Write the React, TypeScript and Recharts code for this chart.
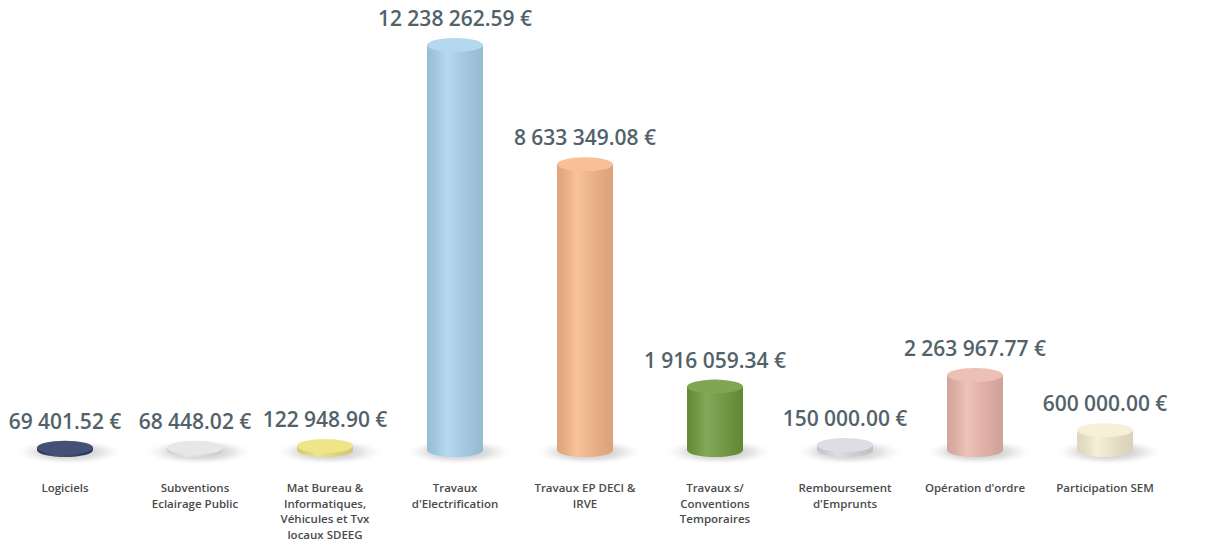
import { Bar, BarChart, Cell, LabelList, XAxis, YAxis } from "recharts";

const categories = [
  ["Logiciels"],
  ["Subventions", "Eclairage Public"],
  ["Mat Bureau &", "Informatiques,", "Véhicules et Tvx", "locaux SDEEG"],
  ["Travaux", "d'Electrification"],
  ["Travaux EP  DECI &", "IRVE"],
  ["Travaux s/", "Conventions", "Temporaires"],
  ["Remboursement", "d'Emprunts"],
  ["Opération d'ordre"],
  ["Participation SEM"],
];

const amounts = [
  69401.52, 68448.02, 122948.9, 12238262.59, 8633349.08, 1916059.34, 150000.0, 2263967.77, 600000.0,
];

const colors = [
  "#2a3a64", "#e4e4e6", "#ece27c", "#a9d3ee", "#f7b889", "#6f9a3c", "#d9d9e2", "#ecb7ae", "#f6eed2",
];

const data = categories.map((lines, i) => ({ name: lines.join(" "), lines, value: amounts[i] }));

const euro = (v: number) => {
  const [int, dec] = v.toFixed(2).split(".");
  return int.replace(/\B(?=(\d{3})+(?!\d))/g, " ") + "." + dec + " €";
};

const RY = 7;

function Cylinder(props: any) {
  const { x, y, width, height, fill, index } = props;
  const cx = x + width / 2;
  const rx = width / 2;
  const top = y;
  const bottom = y + height;
  const id = `cyl-${index}`;
  const body = `M${x},${top} L${x},${bottom} A${rx},${RY} 0 0 0 ${x + width},${bottom} L${x + width},${top} Z`;
  return (
    <g>
      <defs>
        <radialGradient id={`${id}-sh`}>
          <stop offset="0%" stopColor="#7a7a7a" stopOpacity={0.6} />
          <stop offset="60%" stopColor="#a8a8a8" stopOpacity={0.3} />
          <stop offset="100%" stopColor="#ffffff" stopOpacity={0} />
        </radialGradient>
        <linearGradient id={`${id}-shine`} x1="0" x2="1" y1="0" y2="0">
          <stop offset="0%" stopColor="#000" stopOpacity={0.1} />
          <stop offset="35%" stopColor="#fff" stopOpacity={0.15} />
          <stop offset="100%" stopColor="#000" stopOpacity={0.12} />
        </linearGradient>
      </defs>
      <ellipse cx={cx + 4} cy={bottom + 2} rx={rx + 28} ry={RY + 6} fill={`url(#${id}-sh)`} />
      <path d={body} fill={fill} />
      <path d={body} fill={`url(#${id}-shine)`} />
      <ellipse cx={cx} cy={top} rx={rx} ry={RY} fill={fill} />
      <ellipse cx={cx} cy={top} rx={rx} ry={RY} fill="#fff" fillOpacity={0.12} />
    </g>
  );
}

function CategoryTick(props: any) {
  const { x, y, payload } = props;
  const lines = categories[payload.index] ?? [payload.value];
  return (
    <text
      x={x}
      y={y}
      textAnchor="middle"
      fill="#4a4a4a"
      fontFamily="'Open Sans', sans-serif"
      fontWeight={600}
      fontSize={11.5}
    >
      {lines.map((l: string, i: number) => (
        <tspan key={i} x={x} dy={i === 0 ? 34 : 15.5}>
          {l}
        </tspan>
      ))}
    </text>
  );
}

function ValueLabel(props: any) {
  const { x, y, width, value } = props;
  return (
    <text
      x={x + width / 2}
      y={y - 19}
      textAnchor="middle"
      fill="#52626a"
      fontFamily="'Open Sans', sans-serif"
      fontWeight={600}
      fontSize={21}
    >
      {euro(value)}
    </text>
  );
}

export default function App() {
  return (
    <div style={{ position: "absolute", left: 0, top: 0, width: 1214, height: 549, background: "#fff" }}>
      <BarChart
        width={1214}
        height={549}
        data={data}
        margin={{ top: 0, right: 44, bottom: 0, left: 0 }}
        barCategoryGap={37}
      >
        <XAxis
          dataKey="name"
          axisLine={false}
          tickLine={false}
          interval={0}
          height={99}
          tick={<CategoryTick />}
        />
        <YAxis hide domain={[0, 13600000]} />
        <Bar dataKey="value" isAnimationActive={false} shape={<Cylinder />}>
          {data.map((_, i) => (
            <Cell key={i} fill={colors[i]} />
          ))}
          <LabelList dataKey="value" content={<ValueLabel />} />
        </Bar>
      </BarChart>
    </div>
  );
}
